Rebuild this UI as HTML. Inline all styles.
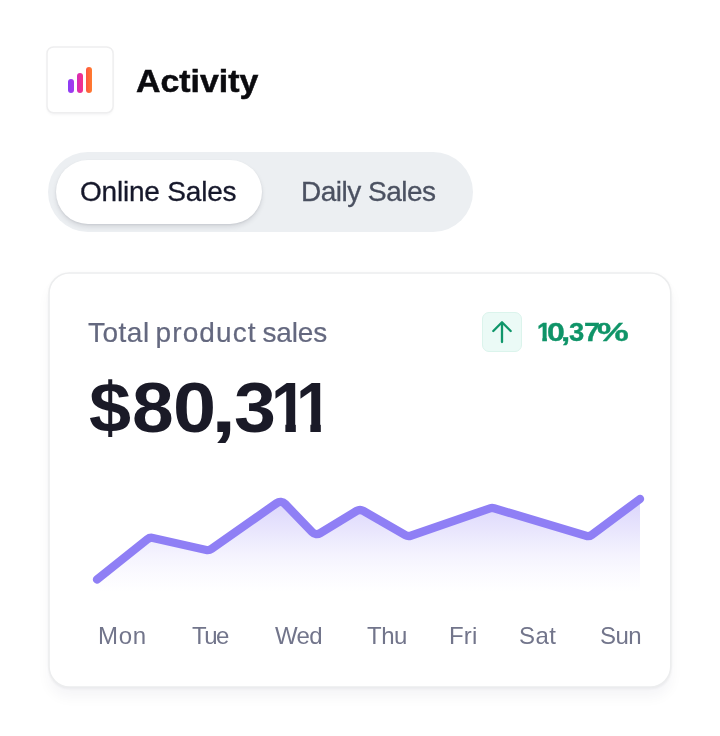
<!DOCTYPE html>
<html lang="en">
<head>
<meta charset="utf-8">
<title>Activity</title>
<style>
  html,body{margin:0;padding:0;}
  body{width:720px;height:736px;background:#ffffff;position:relative;overflow:hidden;
       font-family:"Liberation Sans",sans-serif;}
  .abs{position:absolute;white-space:nowrap;line-height:1;}
  .txt{will-change:transform;}
  .iconbox{left:47px;top:47px;width:66px;height:66px;border-radius:6.5px;background:#fff;
       box-shadow:0 2px 3px rgba(16,24,40,.045);}
  .title{left:136.3px;top:65px;font-size:32px;font-weight:700;color:#0b0b0f;transform-origin:0 50%;transform:scaleX(1.058);-webkit-text-stroke:.5px #0b0b0f;}
  .seg{left:48px;top:152px;width:425px;height:80px;border-radius:40px;background:#eceff2;}
  .pill{left:56px;top:160px;width:206px;height:64px;border-radius:32px;background:#fff;
       box-shadow:0 3px 5px rgba(16,24,40,.10),0 1px 2px rgba(16,24,40,.08);}
  .tab1{left:79.6px;top:177.6px;font-size:28px;color:#16182b;letter-spacing:-.2px;-webkit-text-stroke:.3px #16182b;}
  .tab2{left:300.8px;top:177.6px;font-size:28px;color:#4b5161;letter-spacing:-.5px;-webkit-text-stroke:.3px #4b5161;}
  .card{left:49px;top:273px;width:622px;height:414px;border-radius:20px;background:#fff;
       box-shadow:0 10px 14px rgba(30,34,60,.042),0 2px 2.5px rgba(16,24,40,.04),0 0 4px rgba(16,24,40,.03);}
  .lbl{left:88.2px;top:318.5px;font-size:28px;color:#64687f;-webkit-text-stroke:.2px #64687f;}
  .big{left:88px;top:373px;width:240px;height:70px;font-size:70px;font-weight:700;color:#1a1a27;}
  .big span{position:absolute;top:0;display:block;transform-origin:0 0;line-height:1;}
  .badge{left:482px;top:312px;width:38px;height:38px;border:1px solid #dbf4ec;border-radius:7px;background:#ebfaf6;}
  .pct{left:538px;top:319px;-webkit-text-stroke:.35px #0f9468;width:92px;height:26px;font-size:26px;font-weight:700;color:#0f9468;}
  .pct span{position:absolute;top:0;display:block;transform-origin:0 0;line-height:1;}
  .day{top:624px;font-size:24px;color:#72758b;}
</style>
</head>
<body>
  <div class="abs iconbox"></div>
  <div class="abs card"></div>
  <svg class="abs" style="left:0;top:0" width="720" height="736" viewBox="0 0 720 736" fill="none" stroke="#ecedee" stroke-width="1.5">
    <rect x="47" y="46.9" width="66.1" height="65.9" rx="6.5" stroke="#eeeeef"/>
    <rect x="49.05" y="272.9" width="621.7" height="414.2" rx="20.5"/>
  </svg>
  <svg class="abs" style="left:60px;top:60px" width="40" height="40" viewBox="0 0 40 40">
    <defs>
      <linearGradient id="g1" gradientUnits="userSpaceOnUse" x1="8" y1="0" x2="32" y2="0">
        <stop offset="0" stop-color="#8b3df5"/>
        <stop offset="0.25" stop-color="#a838ec"/>
        <stop offset="0.4" stop-color="#d82bb4"/>
        <stop offset="0.6" stop-color="#f3328a"/>
        <stop offset="0.78" stop-color="#ff5a3d"/>
        <stop offset="1" stop-color="#ff7d2e"/>
      </linearGradient>
    </defs>
    <rect x="8" y="19" width="6" height="14" rx="3" fill="url(#g1)"/>
    <rect x="17" y="13" width="6" height="20" rx="3" fill="url(#g1)"/>
    <rect x="26" y="7" width="6" height="26" rx="3" fill="url(#g1)"/>
  </svg>
  <div class="abs txt title">Activity</div>

  <div class="abs seg"></div>
  <div class="abs pill"></div>
  <div class="abs txt tab1">Online Sales</div>
  <div class="abs txt tab2">Daily Sales</div>

  <div class="abs txt lbl"><span style="letter-spacing:.5px">Total</span> <span style="letter-spacing:1.1px;margin-left:-1.9px">product</span> <span style="letter-spacing:-.12px;margin-left:-2px">sales</span></div>
  <div class="abs txt big"><span style="left:0.92px;transform:scaleX(1.081);">$</span><span style="left:43.61px;transform:scaleX(1.071);">8</span><span style="left:84.68px;transform:scaleX(1.106);">0</span><span style="left:123.00px;transform:scaleX(1.300);">,</span><span style="left:145.85px;transform:scaleX(1.076);">3</span><span style="left:182.73px;transform:scaleX(0.933);clip-path:polygon(0 0,100% 0,100% 51px,26.6px 51px,26.6px 100%,15.4px 100%,15.4px 51px,0 51px);">1</span><span style="left:208.03px;transform:scaleX(0.933);clip-path:polygon(0 0,100% 0,100% 51px,26.6px 51px,26.6px 100%,15.4px 100%,15.4px 51px,0 51px);">1</span></div>
  <div class="abs badge"></div>
  <svg class="abs" style="left:482px;top:312px" width="40" height="40" viewBox="0 0 40 40" fill="none" stroke="#0f966a" stroke-width="2.3" stroke-linecap="round" stroke-linejoin="round">
    <path d="M20 30V10.6M11.3 19L20 10.3L28.7 19"/>
  </svg>
  <div class="abs txt pct"><span style="left:-1.41px;transform:scaleX(0.974);clip-path:polygon(0 0,100% 0,100% 19px,10.2px 19px,10.2px 100%,5.4px 100%,5.4px 19px,0 19px);">1</span><span style="left:8.77px;transform:scaleX(1.233);">0</span><span style="left:23.35px;transform:scaleX(1.275);">,</span><span style="left:31.45px;transform:scaleX(1.054);">3</span><span style="left:45.59px;transform:scaleX(1.108);">7</span><span style="left:59.43px;transform:scaleX(1.373);">%</span></div>

  <svg class="abs" style="left:48px;top:470px" width="624" height="140" viewBox="48 470 624 140">
    <defs>
      <linearGradient id="g2" gradientUnits="userSpaceOnUse" x1="0" y1="498" x2="0" y2="592">
        <stop offset="0" stop-color="#8f7ff5" stop-opacity=".34"/>
        <stop offset=".35" stop-color="#8f7ff5" stop-opacity=".195"/>
        <stop offset=".6" stop-color="#8f7ff5" stop-opacity=".095"/>
        <stop offset=".8" stop-color="#8f7ff5" stop-opacity=".04"/>
        <stop offset="1" stop-color="#8f7ff5" stop-opacity="0"/>
      </linearGradient>
    </defs>
    <path d="M97.0 579.5L147.4 539.3A6.5 6.5 0 0 1 152.9 538.0L206.3 550.0A6.5 6.5 0 0 0 211.5 548.9L276.6 503.2A6.5 6.5 0 0 1 285.1 504.0L312.2 532.1A6.5 6.5 0 0 0 320.2 533.1L356.7 510.9A6.5 6.5 0 0 1 363.3 510.9L405.4 535.2A6.5 6.5 0 0 0 410.7 535.7L490.0 508.4A6.5 6.5 0 0 1 494.0 508.3L586.0 535.8A6.5 6.5 0 0 0 591.8 534.8L640.0 499.0V596H97Z" fill="url(#g2)"/>
    <path d="M97.0 579.5L147.4 539.3A6.5 6.5 0 0 1 152.9 538.0L206.3 550.0A6.5 6.5 0 0 0 211.5 548.9L276.6 503.2A6.5 6.5 0 0 1 285.1 504.0L312.2 532.1A6.5 6.5 0 0 0 320.2 533.1L356.7 510.9A6.5 6.5 0 0 1 363.3 510.9L405.4 535.2A6.5 6.5 0 0 0 410.7 535.7L490.0 508.4A6.5 6.5 0 0 1 494.0 508.3L586.0 535.8A6.5 6.5 0 0 0 591.8 534.8L640.0 499.0" fill="none" stroke="#8f7ff5" stroke-width="8.4" stroke-linecap="round" stroke-linejoin="round"/>
  </svg>

  <div class="abs txt day" style="left:97.6px;letter-spacing:0.75px">Mon</div>
  <div class="abs txt day" style="left:191.9px;letter-spacing:-1.50px">Tue</div>
  <div class="abs txt day" style="left:274.7px;letter-spacing:-0.60px">Wed</div>
  <div class="abs txt day" style="left:367.2px;letter-spacing:-0.45px">Thu</div>
  <div class="abs txt day" style="left:449.2px;letter-spacing:0.2px">Fri</div>
  <div class="abs txt day" style="left:519.3px;letter-spacing:0.40px">Sat</div>
  <div class="abs txt day" style="left:599.8px;letter-spacing:-0.50px">Sun</div>
</body>
</html>
